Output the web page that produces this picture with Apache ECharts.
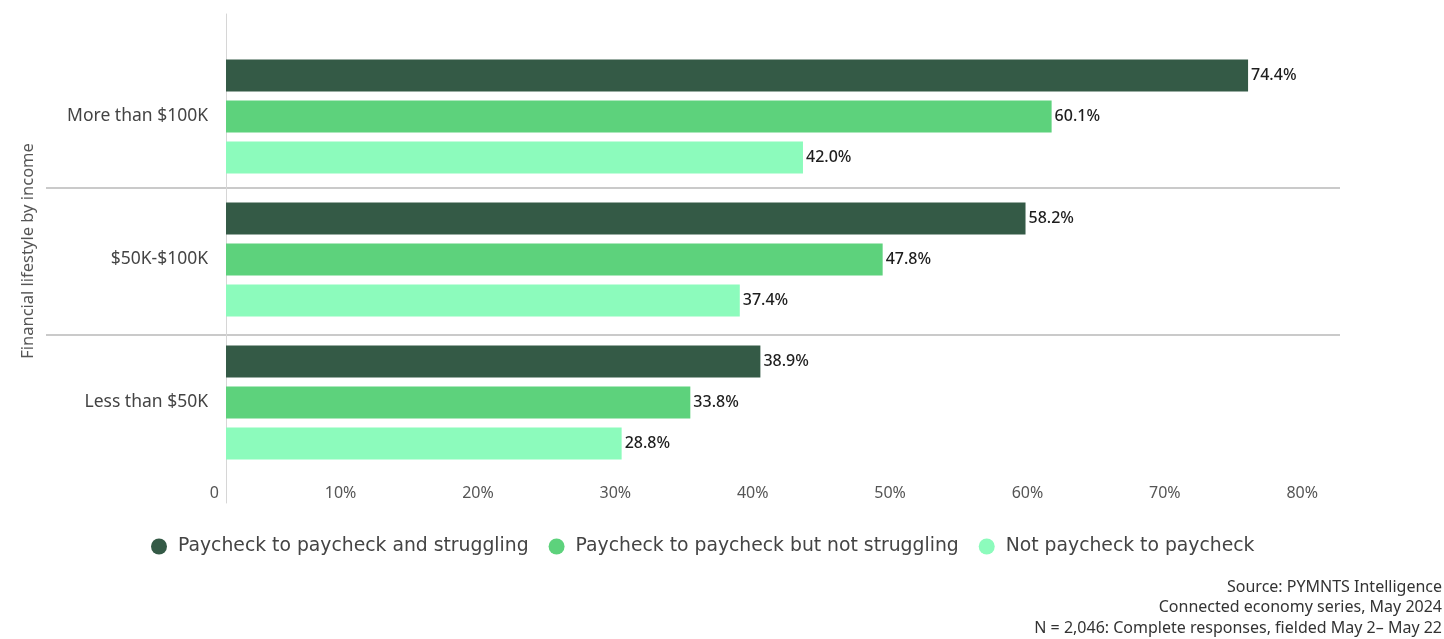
<!DOCTYPE html>
<html>
<head>
<meta charset="utf-8">
<script src="https://cdn.jsdelivr.net/npm/echarts@6/dist/echarts.min.js"></script>
<style>
  html, body { margin: 0; padding: 0; background: #fff; }
  #chart { width: 1444px; height: 639px; }
</style>
</head>
<body>
<div id="chart"></div>
<script>
// Income groups, top to bottom
const categories = ['More than $100K', '$50K-$100K', 'Less than $50K'];

// Share of consumers (%) in each financial lifestyle
const struggling    = [74.4, 58.2, 38.9];
const notStruggling = [60.1, 47.8, 33.8];
const notPaycheck   = [42.0, 37.4, 28.8];

const seriesNames = [
  'Paycheck to paycheck and struggling',
  'Paycheck to paycheck but not struggling',
  'Not paycheck to paycheck'
];
const seriesColors = ['#345a46', '#5dd27c', '#8cfbbc'];

// Axis ticks shown along the bottom
const xTicks = [0, 10, 20, 30, 40, 50, 60, 70, 80];

const axisTitle = 'Financial lifestyle by income';

const sourceLines = [
  'Source: PYMNTS Intelligence',
  'Connected economy series, May 2024',
  'N = 2,046: Complete responses, fielded May 2\u2013 May 22'
];

const chart = echarts.init(document.getElementById('chart'));

function barSeries(name, data, color) {
  return {
    name: name,
    type: 'bar',
    xAxisIndex: 0,
    yAxisIndex: 0,
    data: data,
    barWidth: 32,
    barGap: '28%',
    itemStyle: { color: color },
    label: {
      show: true,
      position: 'right',
      distance: 3,
      formatter: p => p.value.toFixed(1) + '%',
      color: '#1e1e1e',
      fontFamily: 'Noto Sans',
      fontWeight: 500,
      fontSize: 16
    },
    emphasis: { disabled: true }
  };
}

// Source notes, one right-aligned line each
const sourceGraphics = sourceLines.map((line, i) => ({
  type: 'text',
  right: 2,
  top: 579 + i * 20.5,
  style: {
    text: line,
    fill: '#333',
    fontFamily: 'Noto Sans',
    fontSize: 16
  }
}));

chart.setOption({
  animation: false,
  backgroundColor: '#fff',
  grid: [
    // bars
    { left: 226, right: 119, top: 45, bottom: 165 },
    // group separators
    { left: 46, right: 104, top: 41, bottom: 157 },
    // vertical baseline
    { left: 226, width: 10, top: 14, bottom: 136 }
  ],
  xAxis: [
    {
      gridIndex: 0,
      type: 'value',
      min: xTicks[0],
      max: xTicks[xTicks.length - 1],
      interval: 10,
      axisLine: { show: false },
      axisTick: { show: false },
      splitLine: { show: false },
      axisLabel: {
        align: 'right',
        padding: [0, 7, 0, 0],
        margin: 11,
        color: '#555',
        fontFamily: 'Noto Sans',
        fontSize: 16,
        formatter: v => (v === 0 ? '0' : v + '%')
      }
    },
    { gridIndex: 1, type: 'value', show: false, min: 0, max: 1 },
    { gridIndex: 2, type: 'value', show: false, min: 0, max: 1 }
  ],
  yAxis: [
    {
      gridIndex: 0,
      type: 'category',
      data: categories,
      inverse: true,
      axisLine: { show: false },
      axisTick: { show: false },
      axisLabel: {
        margin: 18,
        color: '#444',
        fontFamily: 'Noto Sans',
        fontSize: 17.5
      }
    },
    {
      gridIndex: 1,
      type: 'value',
      min: 0,
      max: 3,
      interval: 1,
      axisLine: { show: false },
      axisTick: { show: false },
      axisLabel: { show: false },
      splitLine: {
        show: true,
        showMinLine: false,
        showMaxLine: false,
        lineStyle: { color: '#b8b8b8', width: 1.5 }
      }
    },
    {
      gridIndex: 2,
      type: 'value',
      min: 0,
      max: 1,
      axisLine: { show: true, lineStyle: { color: '#d6d6d6', width: 1 } },
      axisTick: { show: false },
      axisLabel: { show: false },
      splitLine: { show: false }
    }
  ],
  legend: {
    left: 146,
    top: 532,
    icon: 'circle',
    itemWidth: 16,
    itemHeight: 16,
    itemGap: 20,
    data: seriesNames,
    textStyle: {
      color: '#444',
      fontFamily: 'DejaVu Sans',
      fontSize: 18.8,
      padding: [0, 0, 0, 6]
    }
  },
  graphic: [
    {
      type: 'text',
      x: 28,
      y: 251,
      rotation: Math.PI / 2,
      style: {
        text: axisTitle,
        align: 'center',
        verticalAlign: 'middle',
        fill: '#555',
        fontFamily: 'Noto Sans',
        fontSize: 16.5
      }
    }
  ].concat(sourceGraphics),
  series: [
    barSeries(seriesNames[0], struggling, seriesColors[0]),
    barSeries(seriesNames[1], notStruggling, seriesColors[1]),
    barSeries(seriesNames[2], notPaycheck, seriesColors[2])
  ]
});
</script>
</body>
</html>
